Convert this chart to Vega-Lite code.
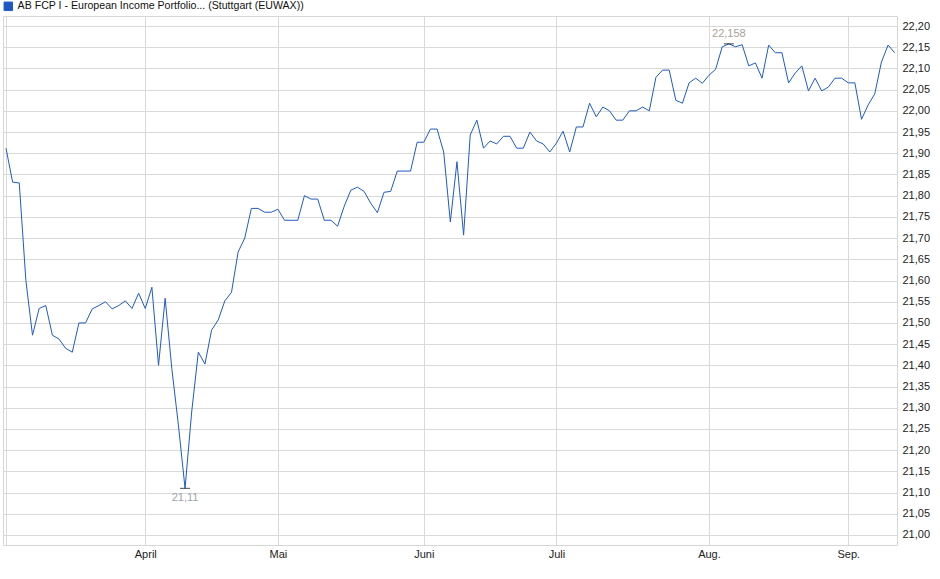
{
  "$schema": "https://vega.github.io/schema/vega-lite/v6.json",
  "width": 894,
  "height": 529,
  "autosize": {"type": "none"},
  "padding": {"left": 3, "top": 16, "right": 43, "bottom": 34},
  "background": "white",
  "config": {
    "view": {"stroke": "#d6d6d6", "strokeWidth": 1},
    "font": "Liberation Sans"
  },
  "encoding": {
    "x": {
      "field": "day",
      "type": "quantitative",
      "scale": {"domain": [-0.45, 134.35], "nice": false, "zero": false},
      "axis": {
        "values": [0, 21, 41, 63, 83, 106, 127],
        "labelExpr": "datum.value == 21 ? 'April' : datum.value == 41 ? 'Mai' : datum.value == 63 ? 'Juni' : datum.value == 83 ? 'Juli' : datum.value == 106 ? 'Aug.' : datum.value == 127 ? 'Sep.' : ''",
        "title": null,
        "grid": true,
        "gridColor": "#d9d9d9",
        "ticks": false,
        "domain": false,
        "labelPadding": 3,
        "labelFontSize": 11,
        "labelColor": "#222222",
        "labelFont": "Liberation Sans",
        "labelOverlap": false
      }
    },
    "y": {
      "field": "price",
      "type": "quantitative",
      "scale": {"domain": [20.9764, 22.2236], "nice": false, "zero": false},
      "axis": {
        "orient": "right",
        "values": [21.0, 21.05, 21.1, 21.15, 21.2, 21.25, 21.3, 21.35, 21.4, 21.45, 21.5, 21.55, 21.6, 21.65, 21.7, 21.75, 21.8, 21.85, 21.9, 21.95, 22.0, 22.05, 22.1, 22.15, 22.2],
        "labelExpr": "replace(format(datum.value, '.2f'), '.', ',')",
        "title": null,
        "grid": true,
        "gridColor": "#d9d9d9",
        "ticks": false,
        "domain": false,
        "labelPadding": 5,
        "labelFontSize": 11,
        "labelColor": "#222222",
        "labelFont": "Liberation Sans",
        "labelOverlap": false
      }
    }
  },
  "layer": [
    {
      "data": {
        "values": [
          {"day": 0, "price": 21.912}, {"day": 1, "price": 21.832}, {"day": 2, "price": 21.83}, {"day": 3, "price": 21.6},
          {"day": 4, "price": 21.471}, {"day": 5, "price": 21.534}, {"day": 6, "price": 21.541}, {"day": 7, "price": 21.471},
          {"day": 8, "price": 21.462}, {"day": 9, "price": 21.44}, {"day": 10, "price": 21.431}, {"day": 11, "price": 21.5},
          {"day": 12, "price": 21.5}, {"day": 13, "price": 21.533}, {"day": 14, "price": 21.541}, {"day": 15, "price": 21.55},
          {"day": 16, "price": 21.533}, {"day": 17, "price": 21.541}, {"day": 18, "price": 21.552}, {"day": 19, "price": 21.534},
          {"day": 20, "price": 21.57}, {"day": 21, "price": 21.534}, {"day": 22, "price": 21.584}, {"day": 23, "price": 21.4},
          {"day": 24, "price": 21.558}, {"day": 25, "price": 21.393}, {"day": 26, "price": 21.259}, {"day": 27, "price": 21.11},
          {"day": 28, "price": 21.29}, {"day": 29, "price": 21.431}, {"day": 30, "price": 21.403}, {"day": 31, "price": 21.483},
          {"day": 32, "price": 21.507}, {"day": 33, "price": 21.552}, {"day": 34, "price": 21.572}, {"day": 35, "price": 21.667},
          {"day": 36, "price": 21.7}, {"day": 37, "price": 21.77}, {"day": 38, "price": 21.77}, {"day": 39, "price": 21.761},
          {"day": 40, "price": 21.761}, {"day": 41, "price": 21.768}, {"day": 42, "price": 21.742}, {"day": 43, "price": 21.742},
          {"day": 44, "price": 21.742}, {"day": 45, "price": 21.8}, {"day": 46, "price": 21.792}, {"day": 47, "price": 21.792},
          {"day": 48, "price": 21.742}, {"day": 49, "price": 21.742}, {"day": 50, "price": 21.728}, {"day": 51, "price": 21.775},
          {"day": 52, "price": 21.813}, {"day": 53, "price": 21.82}, {"day": 54, "price": 21.81}, {"day": 55, "price": 21.782},
          {"day": 56, "price": 21.76}, {"day": 57, "price": 21.808}, {"day": 58, "price": 21.81}, {"day": 59, "price": 21.858},
          {"day": 60, "price": 21.858}, {"day": 61, "price": 21.858}, {"day": 62, "price": 21.926}, {"day": 63, "price": 21.926},
          {"day": 64, "price": 21.957}, {"day": 65, "price": 21.957}, {"day": 66, "price": 21.903}, {"day": 67, "price": 21.738},
          {"day": 68, "price": 21.88}, {"day": 69, "price": 21.707}, {"day": 70, "price": 21.943}, {"day": 71, "price": 21.978},
          {"day": 72, "price": 21.912}, {"day": 73, "price": 21.929}, {"day": 74, "price": 21.922}, {"day": 75, "price": 21.94},
          {"day": 76, "price": 21.94}, {"day": 77, "price": 21.912}, {"day": 78, "price": 21.912}, {"day": 79, "price": 21.95},
          {"day": 80, "price": 21.929}, {"day": 81, "price": 21.922}, {"day": 82, "price": 21.903}, {"day": 83, "price": 21.924},
          {"day": 84, "price": 21.952}, {"day": 85, "price": 21.903}, {"day": 86, "price": 21.962}, {"day": 87, "price": 21.962},
          {"day": 88, "price": 22.018}, {"day": 89, "price": 21.986}, {"day": 90, "price": 22.009}, {"day": 91, "price": 22.0},
          {"day": 92, "price": 21.978}, {"day": 93, "price": 21.978}, {"day": 94, "price": 22.0}, {"day": 95, "price": 22.0},
          {"day": 96, "price": 22.009}, {"day": 97, "price": 22.0}, {"day": 98, "price": 22.079}, {"day": 99, "price": 22.096},
          {"day": 100, "price": 22.096}, {"day": 101, "price": 22.025}, {"day": 102, "price": 22.018}, {"day": 103, "price": 22.066},
          {"day": 104, "price": 22.077}, {"day": 105, "price": 22.065}, {"day": 106, "price": 22.084}, {"day": 107, "price": 22.098},
          {"day": 108, "price": 22.151}, {"day": 109, "price": 22.158}, {"day": 110, "price": 22.151}, {"day": 111, "price": 22.156},
          {"day": 112, "price": 22.106}, {"day": 113, "price": 22.113}, {"day": 114, "price": 22.077}, {"day": 115, "price": 22.155},
          {"day": 116, "price": 22.137}, {"day": 117, "price": 22.137}, {"day": 118, "price": 22.066}, {"day": 119, "price": 22.089},
          {"day": 120, "price": 22.106}, {"day": 121, "price": 22.047}, {"day": 122, "price": 22.077}, {"day": 123, "price": 22.047},
          {"day": 124, "price": 22.056}, {"day": 125, "price": 22.077}, {"day": 126, "price": 22.077}, {"day": 127, "price": 22.066},
          {"day": 128, "price": 22.066}, {"day": 129, "price": 21.98}, {"day": 130, "price": 22.014}, {"day": 131, "price": 22.04},
          {"day": 132, "price": 22.115}, {"day": 133, "price": 22.155}, {"day": 134, "price": 22.137}
        ]
      },
      "mark": {"type": "line", "strokeWidth": 1, "interpolate": "linear"},
      "encoding": {
        "color": {
          "datum": "AB FCP I - European Income Portfolio... (Stuttgart (EUWAX))",
          "type": "nominal",
          "scale": {"range": ["#1d5bc6"]},
          "legend": {
            "orient": "none",
            "legendX": 0,
            "legendY": -15,
            "title": null,
            "padding": 0,
            "symbolType": "square",
            "symbolSize": 72,
            "symbolFillColor": "#1f55c0",
            "symbolStrokeColor": "#0c2a6e",
            "symbolStrokeWidth": 1,
            "labelFontSize": 10.6,
            "labelColor": "#111111",
            "labelFont": "Liberation Sans",
            "labelOffset": 4,
            "labelLimit": 0
          }
        }
      }
    },
    {
      "data": {"values": [{"day": 27, "price": 21.11}, {"day": 109, "price": 22.158}]},
      "mark": {"type": "tick", "orient": "horizontal", "size": 10, "thickness": 1, "color": "#000000"}
    },
    {
      "data": {"values": [{"day": 27, "price": 21.11, "label": "21,11"}]},
      "mark": {"type": "text", "dy": 10, "fontSize": 11, "font": "Liberation Sans", "color": "#9aa3b0", "baseline": "middle", "align": "center"},
      "encoding": {"text": {"field": "label"}}
    },
    {
      "data": {"values": [{"day": 109, "price": 22.158, "label": "22,158"}]},
      "mark": {"type": "text", "dy": -10, "fontSize": 11, "font": "Liberation Sans", "color": "#aaa198", "baseline": "middle", "align": "center"},
      "encoding": {"text": {"field": "label"}}
    }
  ]
}
